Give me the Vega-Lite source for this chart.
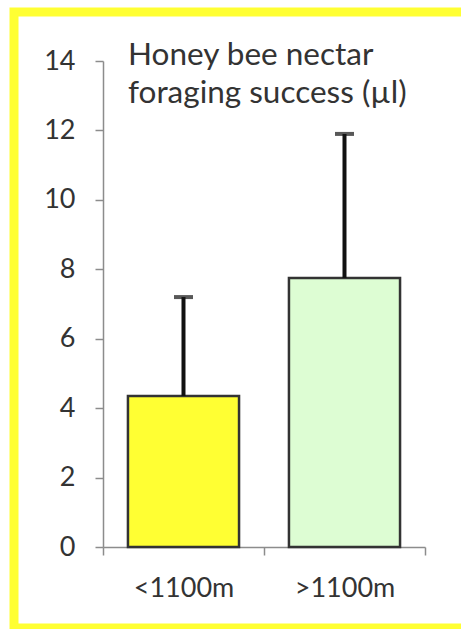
{
  "$schema": "https://vega.github.io/schema/vega-lite/v6.json",
  "autosize": {"type": "none"},
  "width": 452,
  "height": 616,
  "padding": {"left": 14, "top": 12, "right": -5, "bottom": 1},
  "background": "white",
  "title": {
    "text": ["Honey bee nectar", "foraging success (µl)"],
    "anchor": "start",
    "frame": "group",
    "dx": 114,
    "offset": -97,
    "baseline": "top",
    "font": "Lato",
    "fontSize": 31.5,
    "fontWeight": "normal",
    "color": "#333333",
    "lineHeight": 38
  },
  "data": {
    "values": [
      {"distance": "<1100m", "mean": 4.35, "upper": 7.2},
      {"distance": ">1100m", "mean": 7.75, "upper": 11.9}
    ]
  },
  "encoding": {
    "x": {
      "field": "distance",
      "type": "nominal",
      "sort": ["<1100m", ">1100m"],
      "scale": {"paddingInner": 0, "paddingOuter": 0.4037, "align": 0.6846},
      "axis": {
        "title": null,
        "orient": "bottom",
        "offset": -81,
        "labelAngle": 0,
        "tickBand": "extent",
        "tickSize": 8,
        "tickWidth": 1.5,
        "tickColor": "#8c8c8c",
        "domainColor": "#8c8c8c",
        "domainWidth": 1.5,
        "domainDash": [0, 89, 322, 2000],
        "labelFont": "Lato",
        "labelFontSize": 27,
        "labelColor": "#333333",
        "labelPadding": 20,
        "grid": false
      }
    }
  },
  "layer": [
    {
      "mark": {"type": "bar", "width": {"band": 0.69}, "stroke": "#333333", "strokeWidth": 2.5},
      "encoding": {
        "y": {
          "field": "mean",
          "type": "quantitative",
          "scale": {"domain": [-2.333, 15.412], "nice": false, "zero": false},
          "axis": {
            "title": null,
            "values": [0, 2, 4, 6, 8, 10, 12, 14],
            "offset": -89,
            "tickSize": 8,
            "tickWidth": 1.5,
            "tickColor": "#8c8c8c",
            "domainColor": "#8c8c8c",
            "domainWidth": 1.5,
            "domainDash": [0, 81, 486, 2000],
            "labelFont": "Lato",
            "labelFontSize": 27,
            "labelColor": "#333333",
            "labelPadding": 20,
            "grid": false
          }
        },
        "y2": {"datum": 0},
        "color": {
          "field": "distance",
          "type": "nominal",
          "scale": {"domain": ["<1100m", ">1100m"], "range": ["#ffff33", "#ddfdd3"]},
          "legend": null
        }
      }
    },
    {
      "mark": {"type": "rule", "color": "#111111", "strokeWidth": 4},
      "encoding": {
        "y": {"field": "mean", "type": "quantitative"},
        "y2": {"field": "upper"}
      }
    },
    {
      "mark": {"type": "tick", "color": "#111111", "size": 19, "thickness": 4},
      "encoding": {
        "y": {"field": "upper", "type": "quantitative"}
      }
    }
  ],
  "config": {
    "view": {"fill": "white", "stroke": "#ffff33", "strokeWidth": 9}
  }
}
